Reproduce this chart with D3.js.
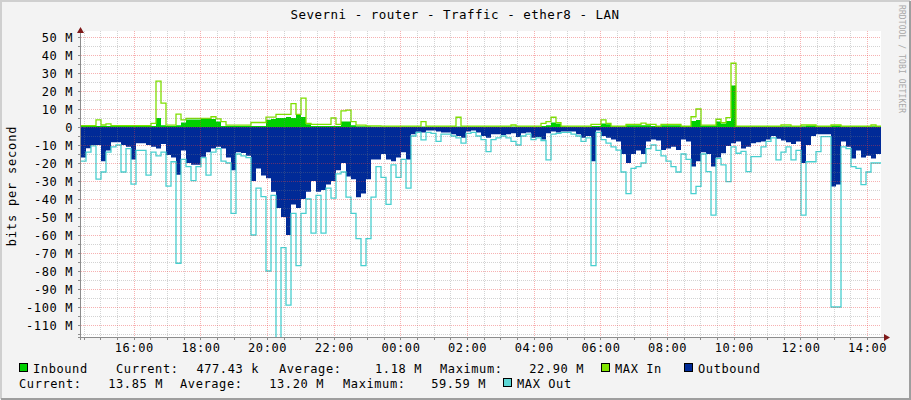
<!DOCTYPE html>
<html lang="en">
<head>
<meta charset="UTF-8">
<title>Severni - router - Traffic - ether8 - LAN</title>
<script src="https://d3js.org/d3.v7.min.js"></script>
<style>
  body { margin: 0; background: #fff; }
  svg { display: block; }
  text { font-family: "DejaVu Sans Mono", monospace; fill: #000; }
</style>
</head>
<body>
<script>
// one sample every 9 minutes from 14:25, values in Mbit/s
const inbound = [
  0.5,0.5,0.5,0.5,0.5,0.5,0.5,0.5,0.5,0.5,
  0.5,0.5,0.5,0.5,0.5,5,1,0.5,0.5,1,
  2.5,4.2,4.2,4.2,4.5,4.5,4.5,3,0.5,0.5,
  0.5,0.5,0.5,0.5,0.5,0.5,0.5,4,4.5,5,
  5,5.5,5,6.7,5.5,1.5,0.6,0.6,0.6,0.6,
  0.6,0.6,3,3,1,0.4,0.4,0.4,0.3,0.3,
  0.3,0.3,0.3,0.3,0.3,0.3,0.3,0.3,0.3,0.3,
  0.3,0.3,0.3,0.3,0.3,0.3,0.3,0.3,0.3,0.3,
  0.3,0.3,0.3,0.3,0.3,0.3,0.3,0.3,0.3,0.3,
  0.3,0.3,0.5,1,2.5,2,0.4,0.3,0.3,0.3,
  0.3,0.3,0.5,0.5,2,1.5,0.4,0.4,0.4,1,
  1,1,1,1,0.5,0.5,1,1,1,1,
  0.5,0.5,3.3,3.9,0.8,0.8,0.8,3,2,3.3,
  23,0.4,0.4,0.4,0.4,0.4,0.4,0.4,0.4,0.4,
  0.4,0.4,0.4,0.4,0.4,0.8,0.8,0.4,0.4,0.4,
  0.8,0.8,0.4,0.4,0.4,0.4,0.4,0.4,0.4,0.4
];
const maxIn = [
  0.8,0.8,0.8,3.9,1.1,1.7,0.8,0.8,0.8,0.8,
  0.8,0.8,0.8,0.8,2,25.5,13.3,1,1,7.2,
  3.9,4.8,4.8,4.8,4.8,4.8,5.7,4.5,3,1,
  1,1,1,1,2.5,2.5,2.5,5.5,5.5,7,
  7,7,13,7,16,2,1.5,1.5,1.5,1.5,
  5,1.5,9,9.4,3,1,1,0.6,0.6,0.6,
  0.5,0.5,0.5,0.5,0.5,0.5,0.5,0.5,3,0.5,
  0.5,0.5,0.5,0.5,0.5,5.4,0.5,0.5,0.5,0.5,
  0.5,0.5,0.5,0.5,0.5,0.5,1.1,0.5,0.5,0.5,
  0.5,0.5,2,3,5.4,2.4,0.5,0.5,0.5,0.5,
  0.5,0.5,1.5,1.5,3.9,2,0.5,0.5,0.5,1.5,
  1.5,1.5,2.2,1.5,1.5,0.5,1.5,1.5,1.5,1.5,
  0.5,0.5,5.7,10,1,1,1,4.3,2.4,5.2,
  35.4,0.5,0.5,0.5,0.5,0.5,0.5,0.5,0.5,0.5,
  1.1,1.1,0.5,0.5,1.1,1.1,1.1,0.5,0.5,0.5,
  1.1,1.1,0.5,0.5,0.5,0.5,0.5,0.5,1.1,0.5
];
const outbound = [
  17,11.8,10,10,19,13,8.5,8.5,10,11,
  18,9,9,10,11,12,9.5,15.5,17,26.5,
  13,20,21,21,16.5,14,12,11,12,17,
  24,14,14.5,16,30,23,27,28.5,36,45,
  50,60,43,45,40,36,30,36,35,32,
  30,24,20,27.5,29,39,37,29,18,18,
  15,18,19,17,14,18,4,2.6,3,2,
  2,2.5,3,3,4,5,6,2.5,2,3,
  5,6,4,4,4.5,4,3.5,5.5,3.5,3,
  6,5.5,7,3.5,2.5,3,2.5,2.5,2.5,4,
  6,5,19,2,5,6,7,8,15,20,
  15,13,15,8,7,7.5,12.8,12,11,12.8,
  7,8,22,19,14,15,22,17,14.6,10.5,
  9,8,12,11,9,8.5,8,7,5,6.5,
  7.5,8.5,9.5,8,20,10,5,4,4,4,
  33,32,8,11,17.5,13,17,16,17.5,15
];
const maxOut = [
  19,14,10.5,29,25,14,11,10,25,12,
  31.7,13,13,26.7,14,16,14,32.8,19.3,75.7,
  18,22,29.8,22,17,26.7,14,12,19,20,
  48,15,16,17,60,34,38.7,80,38,118,
  67,99,48,77,48,40,59,38,59,34,
  39.5,26,25,39,48,62,77,62,39,22,
  28,43,21,28,18,34,5,3,7.2,3,
  3.5,8,4,4,5,6,9,3.5,3,5,
  7,13.7,7,6,5,6,8,10,5,4,
  7,6,7.5,18.3,4,3.5,3,3,4,5,
  8,6,77,3,7,9,11,12.8,25,37,
  23,22,20,12,10,13,16,19,22,25,
  15,18,37,33,15,24.8,49,17.4,21,30.4,
  11,14.6,13.5,24.8,16.5,16.5,11,8,6,18.3,
  14,11,18.3,13,49,19.3,19.3,13.7,5.4,5.4,
  100,100,11,12,22,23,32,25,20,20
];

const yTicks = [50, 40, 30, 20, 10, 0, -10, -20, -30, -40, -50, -60, -70, -80, -90, -100, -110];
const legendRow1 = [
  {box: "#00CF00", text: "Inbound", x: 19},
  {text: "Current:", x: 116}, {text: "477.43 k", x: 259, end: true},
  {text: "Average:", x: 279}, {text: "1.18 M", x: 422, end: true},
  {text: "Maximum:", x: 440}, {text: "22.90 M", x: 584, end: true},
  {box: "#80E400", text: "MAX In", x: 601},
  {box: "#002A97", text: "Outbound", x: 684}
];
const legendRow2 = [
  {text: "Current:", x: 19}, {text: "13.85 M", x: 163, end: true},
  {text: "Average:", x: 180}, {text: "13.20 M", x: 324, end: true},
  {text: "Maximum:", x: 343}, {text: "59.59 M", x: 486, end: true},
  {box: "#5CD7D5", text: "MAX Out", x: 503}
];

const W = 911, H = 400;
const pl = 81, pr = 881, pt = 31, pb = 337;
const start = new Date(2024, 0, 1, 14, 25);
const end = new Date(2024, 0, 2, 14, 25);
const step = 9;

const svg = d3.select("body").append("svg")
  .attr("width", W).attr("height", H);

// frame
svg.append("rect").attr("width", W).attr("height", H).attr("fill", "#F3F3F3");
svg.append("path").attr("d", `M1,${H - 1}V1H${W - 1}`).attr("stroke", "#CFCFCF").attr("stroke-width", 2).attr("fill", "none");
svg.append("path").attr("d", `M1,${H - 1}H${W - 1}V1`).attr("stroke", "#9E9E9E").attr("stroke-width", 2).attr("fill", "none");

svg.append("rect")
  .attr("x", pl).attr("y", pt)
  .attr("width", pr - pl).attr("height", pb - pt)
  .attr("fill", "#fff");

const x = d3.scaleTime().domain([start, end]).range([pl, pr]);
const y = d3.scaleLinear().domain([-116.67, 53.33]).range([pb, pt]);

function series(vals, sign) {
  const pts = vals.map((v, i) => ({t: d3.timeMinute.offset(start, i * step), v: sign * v}));
  pts.push({t: end, v: sign * vals[vals.length - 1]});
  return pts;
}

svg.append("clipPath").attr("id", "plot")
  .append("rect").attr("x", pl).attr("y", pt)
  .attr("width", pr - pl).attr("height", pb - pt);

const g = svg.append("g").attr("clip-path", "url(#plot)");

const area = d3.area().curve(d3.curveStepAfter)
  .x(d => x(d.t)).y0(y(0)).y1(d => y(d.v));
const line = d3.line().curve(d3.curveStepAfter)
  .x(d => x(d.t)).y(d => y(d.v));

g.append("path").datum(series(inbound, 1)).attr("d", area).attr("fill", "#00CF00");
g.append("path").datum(series(maxIn, 1)).attr("d", line)
  .attr("fill", "none").attr("stroke", "#7EDF00").attr("stroke-width", 1.3);
g.append("path").datum(series(outbound, -1)).attr("d", area).attr("fill", "#002A97");
g.append("path").datum(series(maxOut, -1)).attr("d", line)
  .attr("fill", "none").attr("stroke", "#48CFCF").attr("stroke-width", 1.3);

// grid over the data, like rrdtool
const grid = svg.append("g").attr("shape-rendering", "crispEdges")
  .attr("stroke-dasharray", "1,1").attr("fill", "none");

x.ticks(d3.timeMinute.every(30)).forEach(t => {
  const major = t.getMinutes() === 0 && t.getHours() % 2 === 0;
  const px = Math.round(x(t)) + 0.5;
  grid.append("line").attr("x1", px).attr("x2", px).attr("y1", pt).attr("y2", pb)
    .attr("stroke", major ? "rgba(235,60,60,0.4)" : "rgba(120,120,120,0.33)");
});
d3.range(-115, 55, 5).forEach(v => {
  const major = v % 10 === 0;
  const py = Math.round(y(v)) + 0.5;
  grid.append("line").attr("x1", pl).attr("x2", pr).attr("y1", py).attr("y2", py)
    .attr("stroke", major ? "rgba(235,60,60,0.4)" : "rgba(120,120,120,0.33)");
});

// axes
const axisCol = "#8C8C8C", arrowCol = "#7F1A1A";
const ax = svg.append("g").attr("shape-rendering", "crispEdges");
ax.append("line").attr("x1", pl - 3).attr("x2", pr + 4)
  .attr("y1", pb + 0.5).attr("y2", pb + 0.5).attr("stroke", axisCol);
ax.append("line").attr("x1", pl - 0.5).attr("x2", pl - 0.5)
  .attr("y1", pb + 3).attr("y2", pt - 1).attr("stroke", axisCol);
x.ticks(d3.timeMinute.every(30)).forEach(t => {
  const px = Math.round(x(t)) + 0.5;
  ax.append("line").attr("x1", px).attr("x2", px).attr("y1", pb).attr("y2", pb + 3).attr("stroke", axisCol);
});
d3.range(-115, 55, 5).forEach(v => {
  const py = Math.round(y(v)) + 0.5;
  ax.append("line").attr("x1", pl - 3).attr("x2", pl).attr("y1", py).attr("y2", py).attr("stroke", axisCol);
});
svg.append("path").attr("d", `M${pr + 3},${pb - 3}L${pr + 9},${pb + 0.5}L${pr + 3},${pb + 4}Z`).attr("fill", arrowCol);
svg.append("path").attr("d", `M${pl - 4},${pt + 2}L${pl - 0.5},${pt - 4}L${pl + 3},${pt + 2}Z`).attr("fill", arrowCol);

// tick labels
const xAxis = d3.axisBottom(x)
  .ticks(d3.timeHour.every(2))
  .tickFormat(d3.timeFormat("%H:%M"))
  .tickSize(0).tickPadding(0);
const xa = svg.append("g").attr("transform", `translate(0,${pb})`).call(xAxis);
xa.select(".domain").remove();
xa.selectAll("text")
  .attr("y", 15).attr("dy", null)
  .style("font-family", "DejaVu Sans Mono").style("font-size", "12px")
  .style("letter-spacing", "0.6px").attr("fill", "#000");

const yAxis = d3.axisLeft(y)
  .tickValues(yTicks)
  .tickFormat(v => v === 0 ? "0" : v + " M")
  .tickSize(0).tickPadding(0);
const ya = svg.append("g").attr("transform", `translate(${pl - 8},0)`).call(yAxis);
ya.select(".domain").remove();
ya.selectAll("text")
  .attr("dy", "0.36em")
  .style("font-family", "DejaVu Sans Mono").style("font-size", "12px")
  .style("letter-spacing", "0.6px").attr("fill", "#000");

// titles
svg.append("text").attr("x", 455).attr("y", 19).attr("text-anchor", "middle")
  .style("font-size", "12.5px").style("letter-spacing", "0.5px")
  .text("Severni - router - Traffic - ether8 - LAN");
svg.append("text").attr("transform", "translate(16,186) rotate(-90)")
  .attr("text-anchor", "middle")
  .style("font-size", "12px").style("letter-spacing", "0.8px")
  .text("bits per second");
svg.append("text").attr("transform", "translate(899,5) rotate(90)")
  .style("font-size", "8px").style("letter-spacing", "0.1px")
  .style("fill", "#A8A8A8")
  .text("RRDTOOL / TOBI OETIKER");

// legend
function legendRow(items, base) {
  items.forEach(it => {
    let tx = it.x;
    if (it.box) {
      svg.append("rect").attr("x", it.x + 0.5).attr("y", base - 9.5)
        .attr("width", 8).attr("height", 8)
        .attr("fill", it.box).attr("stroke", "#000").attr("stroke-width", 1);
      tx = it.x + 14;
    }
    svg.append("text").attr("x", tx).attr("y", base)
      .attr("text-anchor", it.end ? "end" : "start")
      .style("font-size", "12px").style("letter-spacing", "0.6px")
      .text(it.text);
  });
}
legendRow(legendRow1, 373);
legendRow(legendRow2, 388);
</script>
</body>
</html>
